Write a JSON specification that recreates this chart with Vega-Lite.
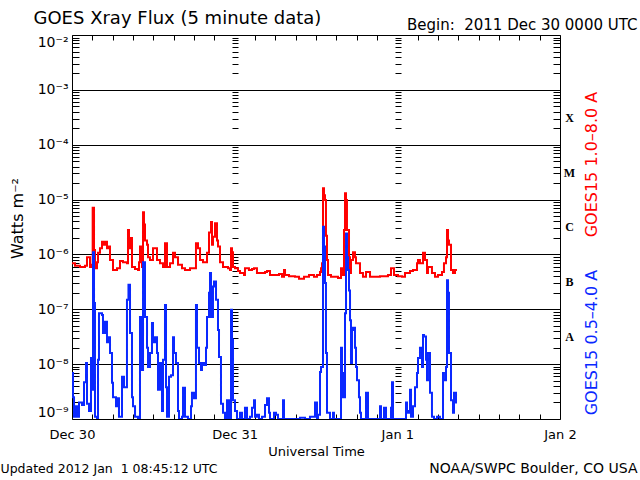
{
  "$schema": "https://vega.github.io/schema/vega-lite/v6.json",
  "width": 488,
  "height": 384,
  "autosize": "none",
  "padding": {"left": 72, "top": 35, "right": 80, "bottom": 61},
  "background": "white",
  "config": {
    "view": {"stroke": "black", "strokeWidth": 1},
    "axis": {"labelFont": "DejaVu Sans", "titleFont": "DejaVu Sans", "labelColor": "black", "titleColor": "black", "titleFontWeight": "normal", "tickColor": "black", "tickWidth": 1, "domainColor": "black", "gridColor": "black", "gridOpacity": 1}
  },
  "datasets": {
    "red": [
      {"t":0,"flux":6.9e-7},{"t":0.44,"flux":6.2e-7},{"t":1.18,"flux":5.9e-7},{"t":1.92,"flux":6.2e-7},{"t":2.21,"flux":8.9e-7},{"t":2.66,"flux":5.9e-7},{"t":2.95,"flux":6.5e-7},{"t":3.05,"flux":7.1e-6},{"t":3.25,"flux":1.2e-6},{"t":3.39,"flux":5.6e-7},{"t":3.69,"flux":7.2e-7},{"t":3.84,"flux":1.07e-6},{"t":4.13,"flux":1.3e-6},{"t":4.43,"flux":1.7e-6},{"t":4.72,"flux":1.5e-6},{"t":4.87,"flux":1.7e-6},{"t":5.16,"flux":1.3e-6},{"t":5.31,"flux":1.4e-6},{"t":5.61,"flux":7.9e-7},{"t":6.05,"flux":5.2e-7},{"t":6.64,"flux":5.6e-7},{"t":7.08,"flux":7.6e-7},{"t":7.52,"flux":7.2e-7},{"t":8.11,"flux":6.9e-7},{"t":8.26,"flux":2.8e-6},{"t":8.41,"flux":1.3e-6},{"t":8.56,"flux":2.0e-6},{"t":8.85,"flux":5.9e-7},{"t":9.3,"flux":5.4e-7},{"t":9.74,"flux":5.2e-7},{"t":9.89,"flux":7.2e-7},{"t":10.03,"flux":1.4e-6},{"t":10.18,"flux":8.5e-7},{"t":10.33,"flux":5.9e-7},{"t":10.48,"flux":5.9e-6},{"t":10.62,"flux":3.5e-6},{"t":10.77,"flux":1.8e-6},{"t":11.07,"flux":1.5e-6},{"t":11.21,"flux":8.9e-7},{"t":11.51,"flux":7.9e-7},{"t":11.95,"flux":1.3e-6},{"t":12.25,"flux":1.3e-6},{"t":12.54,"flux":7.9e-7},{"t":12.98,"flux":6.9e-7},{"t":13.43,"flux":5.9e-7},{"t":13.72,"flux":1.6e-6},{"t":14.02,"flux":5.9e-7},{"t":14.46,"flux":6.9e-7},{"t":14.9,"flux":1.07e-6},{"t":15.2,"flux":8.9e-7},{"t":15.64,"flux":6.5e-7},{"t":16.23,"flux":5.6e-7},{"t":16.67,"flux":5.2e-7},{"t":17.41,"flux":5.6e-7},{"t":18.0,"flux":5.6e-7},{"t":18.29,"flux":1.6e-6},{"t":18.59,"flux":1.3e-6},{"t":18.89,"flux":7.9e-7},{"t":19.33,"flux":7.2e-7},{"t":19.92,"flux":1.07e-6},{"t":20.21,"flux":2.5e-6},{"t":20.51,"flux":3.9e-6},{"t":20.66,"flux":1.5e-6},{"t":20.8,"flux":2.1e-6},{"t":21.1,"flux":3.7e-6},{"t":21.39,"flux":1.8e-6},{"t":21.54,"flux":1.4e-6},{"t":21.84,"flux":7.2e-7},{"t":22.28,"flux":5.9e-7},{"t":23.02,"flux":5.6e-7},{"t":23.31,"flux":5.2e-7},{"t":23.46,"flux":1.3e-6},{"t":23.61,"flux":1.1e-6},{"t":23.75,"flux":5.9e-7},{"t":24.05,"flux":5.6e-7},{"t":24.49,"flux":5.0e-7},{"t":24.79,"flux":4.6e-7},{"t":25.38,"flux":4.2e-7},{"t":25.52,"flux":5.6e-7},{"t":26.11,"flux":5.2e-7},{"t":26.56,"flux":5.4e-7},{"t":26.85,"flux":5.6e-7},{"t":27.29,"flux":4.6e-7},{"t":28.48,"flux":4.8e-7},{"t":28.77,"flux":5.0e-7},{"t":29.21,"flux":4.2e-7},{"t":30.54,"flux":4.4e-7},{"t":30.98,"flux":3.9e-7},{"t":31.28,"flux":5.2e-7},{"t":31.43,"flux":4.2e-7},{"t":32.02,"flux":4.0e-7},{"t":32.9,"flux":3.9e-7},{"t":33.49,"flux":3.6e-7},{"t":34.23,"flux":3.9e-7},{"t":34.97,"flux":4.2e-7},{"t":35.7,"flux":3.9e-7},{"t":36.15,"flux":4.2e-7},{"t":36.59,"flux":4.8e-7},{"t":36.74,"flux":5.6e-7},{"t":36.89,"flux":6.9e-7},{"t":37.03,"flux":1.6e-5},{"t":37.18,"flux":1.2e-5},{"t":37.33,"flux":9.8e-6},{"t":37.47,"flux":2.2e-6},{"t":37.62,"flux":7.9e-7},{"t":37.77,"flux":4.2e-7},{"t":38.21,"flux":3.9e-7},{"t":39.25,"flux":3.7e-7},{"t":39.69,"flux":5.6e-7},{"t":39.84,"flux":4.8e-7},{"t":39.98,"flux":4.2e-7},{"t":40.13,"flux":2.8e-6},{"t":40.28,"flux":1.3e-5},{"t":40.43,"flux":9.8e-6},{"t":40.57,"flux":2.8e-6},{"t":40.87,"flux":8.9e-7},{"t":41.02,"flux":4.6e-7},{"t":41.16,"flux":7.9e-7},{"t":41.46,"flux":1.1e-6},{"t":41.75,"flux":8.9e-7},{"t":41.9,"flux":6.9e-7},{"t":42.49,"flux":4.6e-7},{"t":42.93,"flux":3.9e-7},{"t":43.38,"flux":4.8e-7},{"t":43.97,"flux":3.9e-7},{"t":44.7,"flux":3.9e-7},{"t":45.44,"flux":4.0e-7},{"t":46.62,"flux":4.2e-7},{"t":47.07,"flux":5.6e-7},{"t":47.51,"flux":4.2e-7},{"t":48.1,"flux":4.0e-7},{"t":48.69,"flux":3.9e-7},{"t":49.13,"flux":4.6e-7},{"t":49.87,"flux":5.0e-7},{"t":50.31,"flux":5.2e-7},{"t":50.9,"flux":6.9e-7},{"t":51.05,"flux":7.9e-7},{"t":51.34,"flux":6.9e-7},{"t":51.79,"flux":1.07e-6},{"t":52.08,"flux":7.9e-7},{"t":52.38,"flux":4.6e-7},{"t":52.52,"flux":5.9e-7},{"t":53.11,"flux":4.6e-7},{"t":53.56,"flux":3.9e-7},{"t":54.0,"flux":4.2e-7},{"t":54.59,"flux":4.8e-7},{"t":54.88,"flux":6.9e-7},{"t":55.18,"flux":8.9e-7},{"t":55.33,"flux":2.8e-6},{"t":55.48,"flux":1.8e-6},{"t":55.62,"flux":1.5e-6},{"t":55.92,"flux":5.2e-7},{"t":56.21,"flux":4.6e-7},{"t":56.51,"flux":5.2e-7},{"t":56.8,"flux":5.2e-7}
    ],
    "blue": [
      {"t":0,"flux":6.9e-9},{"t":0.15,"flux":2.5e-9},{"t":0.3,"flux":1.1e-9},{"t":0.59,"flux":1.7e-9},{"t":0.74,"flux":1.1e-9},{"t":1.03,"flux":2.0e-9},{"t":1.48,"flux":1.8e-9},{"t":1.77,"flux":4.7e-9},{"t":2.07,"flux":1.05e-8},{"t":2.21,"flux":1.9e-9},{"t":2.51,"flux":1.4e-9},{"t":2.8,"flux":1.3e-8},{"t":2.95,"flux":3.4e-9},{"t":3.1,"flux":1.1e-6},{"t":3.25,"flux":1.3e-7},{"t":3.39,"flux":1.1e-9},{"t":3.69,"flux":1.0e-9},{"t":3.84,"flux":1.2e-8},{"t":3.98,"flux":8.5e-8},{"t":4.43,"flux":7.9e-8},{"t":4.57,"flux":3.7e-8},{"t":4.87,"flux":5.9e-8},{"t":5.16,"flux":2.5e-8},{"t":5.31,"flux":3.1e-8},{"t":5.61,"flux":1.6e-8},{"t":5.9,"flux":4.6e-9},{"t":6.05,"flux":2.5e-9},{"t":6.49,"flux":1.7e-9},{"t":6.64,"flux":2.4e-9},{"t":6.93,"flux":1.1e-9},{"t":7.38,"flux":5.9e-9},{"t":7.67,"flux":3.8e-9},{"t":7.97,"flux":3.8e-9},{"t":8.11,"flux":1.5e-7},{"t":8.33,"flux":2.8e-7},{"t":8.56,"flux":3.7e-8},{"t":8.85,"flux":2.5e-9},{"t":9.0,"flux":1.7e-9},{"t":9.3,"flux":1.1e-9},{"t":9.74,"flux":1.0e-9},{"t":10.03,"flux":7.2e-8},{"t":10.33,"flux":7.8e-9},{"t":10.48,"flux":7.2e-7},{"t":10.77,"flux":7.2e-8},{"t":11.07,"flux":2.0e-8},{"t":11.21,"flux":8.9e-9},{"t":11.51,"flux":1.6e-8},{"t":11.8,"flux":5.6e-8},{"t":11.95,"flux":2.5e-8},{"t":12.25,"flux":3.1e-8},{"t":12.54,"flux":1.6e-8},{"t":12.69,"flux":3.4e-9},{"t":12.98,"flux":1.05e-8},{"t":13.28,"flux":1.4e-9},{"t":13.43,"flux":1.2e-8},{"t":13.72,"flux":1.2e-7},{"t":13.87,"flux":3.8e-9},{"t":14.02,"flux":1.1e-9},{"t":14.31,"flux":5.9e-9},{"t":14.61,"flux":6.3e-9},{"t":14.9,"flux":3.1e-8},{"t":15.05,"flux":1.6e-8},{"t":15.34,"flux":1.05e-8},{"t":15.64,"flux":1.4e-9},{"t":15.79,"flux":1.0e-9},{"t":16.23,"flux":1.1e-9},{"t":16.38,"flux":3.7e-9},{"t":16.67,"flux":1.1e-9},{"t":17.11,"flux":1.0e-9},{"t":17.56,"flux":1.7e-9},{"t":17.7,"flux":3.0e-9},{"t":18.0,"flux":2.4e-9},{"t":18.29,"flux":1.2e-7},{"t":18.44,"flux":2.0e-8},{"t":18.74,"flux":1.05e-8},{"t":19.03,"flux":7.8e-9},{"t":19.18,"flux":1.05e-8},{"t":19.48,"flux":9.6e-9},{"t":19.77,"flux":2.0e-8},{"t":19.92,"flux":7.2e-8},{"t":20.21,"flux":2.0e-7},{"t":20.36,"flux":4.6e-7},{"t":20.51,"flux":7.2e-8},{"t":20.8,"flux":2.6e-7},{"t":20.95,"flux":3.2e-7},{"t":21.25,"flux":1.5e-7},{"t":21.54,"flux":4.2e-8},{"t":21.69,"flux":1.35e-8},{"t":21.98,"flux":1.9e-9},{"t":22.28,"flux":1.3e-9},{"t":22.57,"flux":1.0e-9},{"t":22.87,"flux":2.2e-9},{"t":23.16,"flux":1.0e-9},{"t":23.46,"flux":9.8e-8},{"t":23.61,"flux":2.8e-8},{"t":23.75,"flux":2.2e-9},{"t":24.05,"flux":1.4e-9},{"t":24.34,"flux":1.0e-9},{"t":24.79,"flux":1.3e-9},{"t":25.08,"flux":1.0e-9},{"t":25.52,"flux":1.6e-9},{"t":25.82,"flux":1.0e-9},{"t":26.26,"flux":1.1e-9},{"t":26.56,"flux":1.6e-9},{"t":26.85,"flux":2.2e-9},{"t":27.0,"flux":1.1e-9},{"t":27.29,"flux":1.2e-9},{"t":27.59,"flux":1.0e-9},{"t":28.03,"flux":1.1e-9},{"t":28.48,"flux":1.8e-9},{"t":28.77,"flux":2.4e-9},{"t":29.07,"flux":1.3e-9},{"t":29.21,"flux":1.0e-9},{"t":29.8,"flux":1.3e-9},{"t":30.1,"flux":1.2e-9},{"t":30.39,"flux":1.0e-9},{"t":31.13,"flux":2.2e-9},{"t":31.28,"flux":1.0e-9},{"t":32.17,"flux":1.0e-9},{"t":33.64,"flux":1.05e-9},{"t":34.38,"flux":1.0e-9},{"t":35.11,"flux":1.1e-9},{"t":35.85,"flux":2.0e-9},{"t":36.15,"flux":1.0e-9},{"t":36.3,"flux":1.2e-9},{"t":36.59,"flux":7.2e-9},{"t":36.74,"flux":8.9e-9},{"t":37.03,"flux":3.2e-6},{"t":37.18,"flux":1.4e-6},{"t":37.33,"flux":3.0e-7},{"t":37.47,"flux":1.6e-8},{"t":37.62,"flux":1.3e-9},{"t":38.07,"flux":1.0e-9},{"t":38.51,"flux":1.3e-9},{"t":38.65,"flux":1.0e-9},{"t":39.25,"flux":1.0e-9},{"t":39.69,"flux":2.0e-8},{"t":39.84,"flux":6.9e-9},{"t":39.98,"flux":2.5e-9},{"t":40.28,"flux":8.5e-8},{"t":40.43,"flux":2.4e-6},{"t":40.57,"flux":8.9e-7},{"t":40.72,"flux":5.2e-7},{"t":40.87,"flux":2.2e-7},{"t":41.02,"flux":6.3e-8},{"t":41.16,"flux":1.05e-8},{"t":41.31,"flux":4.2e-8},{"t":41.46,"flux":4.6e-8},{"t":41.75,"flux":2.0e-8},{"t":41.9,"flux":8.9e-9},{"t":42.05,"flux":5.1e-9},{"t":42.34,"flux":2.5e-9},{"t":42.49,"flux":1.3e-9},{"t":42.64,"flux":1.0e-9},{"t":43.38,"flux":3.0e-9},{"t":43.67,"flux":1.0e-9},{"t":45.44,"flux":1.7e-9},{"t":45.59,"flux":1.0e-9},{"t":46.03,"flux":1.6e-9},{"t":46.33,"flux":1.0e-9},{"t":47.07,"flux":1.6e-9},{"t":47.21,"flux":4.7e-9},{"t":47.36,"flux":1.0e-9},{"t":49.28,"flux":2.0e-9},{"t":49.43,"flux":1.4e-9},{"t":49.57,"flux":1.3e-9},{"t":49.87,"flux":3.4e-9},{"t":50.02,"flux":1.1e-9},{"t":50.31,"flux":1.7e-9},{"t":50.61,"flux":3.8e-9},{"t":50.9,"flux":6.9e-9},{"t":51.05,"flux":1.3e-8},{"t":51.34,"flux":2.0e-8},{"t":51.64,"flux":8.9e-9},{"t":51.79,"flux":3.4e-8},{"t":51.94,"flux":3.2e-8},{"t":52.23,"flux":1.2e-8},{"t":52.38,"flux":5.1e-9},{"t":52.52,"flux":1.6e-8},{"t":52.82,"flux":3.0e-9},{"t":53.11,"flux":1.1e-9},{"t":53.41,"flux":1.0e-9},{"t":53.85,"flux":1.1e-9},{"t":54.29,"flux":1.0e-9},{"t":54.74,"flux":6.9e-9},{"t":54.88,"flux":5.1e-9},{"t":55.18,"flux":8.9e-9},{"t":55.33,"flux":3.4e-7},{"t":55.48,"flux":2.0e-7},{"t":55.62,"flux":1.6e-8},{"t":55.92,"flux":2.2e-9},{"t":56.21,"flux":1.3e-9},{"t":56.36,"flux":3.0e-9},{"t":56.66,"flux":2.0e-9},{"t":56.8,"flux":2.0e-9}
    ]
  },
  "layer": [
    {
      "data": {"name": "red"},
      "mark": {"type": "line", "color": "#ff0000", "strokeWidth": 2, "interpolate": "step-after", "clip": true},
      "encoding": {
        "x": {"field": "t", "type": "quantitative", "scale": {"domain": [0, 72], "nice": false, "zero": false},
          "axis": {"orient": "bottom", "values": [0, 24, 48, 72], "labelExpr": "['Dec 30','Dec 31','Jan 1','Jan 2'][round(datum.value/24)]", "ticks": false, "tickSize": 0, "domain": false, "grid": false, "labelFontSize": 13, "labelPadding": 9, "labelFlush": false, "labelOverlap": false, "title": "Universal Time", "titleFontSize": 13, "titleX": 244, "titleY": 36, "titleAlign": "center", "titleBaseline": "alphabetic"}},
        "y": {"field": "flux", "type": "quantitative", "scale": {"type": "log", "domain": [1e-9, 1e-2], "nice": false},
          "axis": {"orient": "left", "values": [1e-9, 1e-8, 1e-7, 1e-6, 1e-5, 1e-4, 1e-3, 1e-2], "labelExpr": "'10' + ['⁻⁹','⁻⁸','⁻⁷','⁻⁶','⁻⁵','⁻⁴','⁻³','⁻²'][round(log(datum.value)/LN10)+9]", "ticks": false, "tickSize": 0, "domain": false, "grid": true, "gridColor": "black", "gridWidth": 1.2, "labelFontSize": 14, "labelPadding": 4, "labelFlush": true, "labelOverlap": false, "title": "Watts m⁻²", "titleFontSize": 16, "titleX": -55, "titleY": 183, "titleAlign": "center", "titleBaseline": "middle", "titleAngle": -90}}
      }
    },
    {
      "data": {"name": "blue"},
      "mark": {"type": "line", "color": "#0a28ff", "strokeWidth": 2, "interpolate": "step-after", "clip": true},
      "encoding": {
        "x": {"field": "t", "type": "quantitative", "scale": {"domain": [0, 72], "nice": false, "zero": false},
          "axis": {"orient": "bottom", "values": [3,6,9,12,15,18,21,27,30,33,36,39,42,45,51,54,57,60,63,66,69], "ticks": true, "tickSize": -5, "labels": false, "domain": false, "grid": false, "title": "Updated 2012 Jan\u00a0 1 08:45:12 UTC", "titleFontSize": 12.5, "titleX": -72, "titleY": 53, "titleAlign": "left", "titleBaseline": "alphabetic"}},
        "y": {"field": "flux", "type": "quantitative", "scale": {"type": "log", "domain": [1e-9, 1e-2], "nice": false},
          "axis": {"orient": "right", "values": [2e-9,3e-9,4e-9,5e-9,6e-9,7e-9,8e-9,9e-9,2e-8,3e-8,4e-8,5e-8,6e-8,7e-8,8e-8,9e-8,2e-7,3e-7,4e-7,5e-7,6e-7,7e-7,8e-7,9e-7,2e-6,3e-6,4e-6,5e-6,6e-6,7e-6,8e-6,9e-6,2e-5,3e-5,4e-5,5e-5,6e-5,7e-5,8e-5,9e-5,2e-4,3e-4,4e-4,5e-4,6e-4,7e-4,8e-4,9e-4,2e-3,3e-3,4e-3,5e-3,6e-3,7e-3,8e-3,9e-3], "ticks": true, "tickSize": -7, "labels": false, "domain": false, "grid": false, "title": "GOES15 0.5–4.0 A", "titleColor": "#0a28ff", "titleFontSize": 16, "titleX": 31, "titleY": 307, "titleAngle": -90, "titleAlign": "center", "titleBaseline": "middle"}}
      }
    },
    {
      "data": {"values": []},
      "mark": {"type": "point"},
      "encoding": {
        "x": {"field": "t", "type": "quantitative", "scale": {"domain": [0, 72], "nice": false, "zero": false},
          "axis": {"orient": "top", "values": [3,6,9,12,15,18,21,27,30,33,36,39,42,45,51,54,57,60,63,66,69], "ticks": true, "tickSize": -5, "labels": false, "domain": false, "grid": false, "title": "GOES Xray Flux (5 minute data)", "titleFontSize": 18, "titleX": -39, "titleY": -12, "titleAlign": "left", "titleBaseline": "alphabetic"}},
        "y": {"field": "flux", "type": "quantitative", "scale": {"type": "log", "domain": [1e-9, 1e-2], "nice": false},
          "axis": {"orient": "left", "values": [2e-9,3e-9,4e-9,5e-9,6e-9,7e-9,8e-9,9e-9,2e-8,3e-8,4e-8,5e-8,6e-8,7e-8,8e-8,9e-8,2e-7,3e-7,4e-7,5e-7,6e-7,7e-7,8e-7,9e-7,2e-6,3e-6,4e-6,5e-6,6e-6,7e-6,8e-6,9e-6,2e-5,3e-5,4e-5,5e-5,6e-5,7e-5,8e-5,9e-5,2e-4,3e-4,4e-4,5e-4,6e-4,7e-4,8e-4,9e-4,2e-3,3e-3,4e-3,5e-3,6e-3,7e-3,8e-3,9e-3], "ticks": true, "tickSize": -7, "labels": false, "domain": false, "grid": false, "title": null}}
      }
    },
    {
      "data": {"values": []},
      "mark": {"type": "point"},
      "encoding": {
        "x": {"field": "t", "type": "quantitative", "scale": {"domain": [0, 72], "nice": false, "zero": false},
          "axis": {"orient": "top", "ticks": false, "labels": false, "domain": false, "grid": false, "title": "Begin:\u00a0 2011 Dec 30 0000 UTC", "titleFontSize": 15, "titleX": 565, "titleY": -6, "titleAlign": "right", "titleBaseline": "alphabetic"}},
        "y": {"field": "flux", "type": "quantitative", "scale": {"type": "log", "domain": [1e-9, 1e-2], "nice": false},
          "axis": {"orient": "right", "values": [3.1623e-8, 3.1623e-7, 3.1623e-6, 3.1623e-5, 3.1623e-4], "labelExpr": "['A','B','C','M','X'][round(log(datum.value)/LN10+7.5)]", "ticks": false, "tickSize": 0, "domain": false, "grid": false, "labelFont": "Liberation Serif", "labelFontWeight": "bold", "labelFontSize": 12, "labelAlign": "center", "labelBaseline": "middle", "labelPadding": 9, "labelFlush": false, "labelOverlap": false, "title": "GOES15 1.0–8.0 A", "titleColor": "#ff0000", "titleFontSize": 16, "titleX": 31, "titleY": 129, "titleAngle": -90, "titleAlign": "center", "titleBaseline": "middle"}}
      }
    },
    {
      "data": {"values": []},
      "mark": {"type": "point"},
      "encoding": {
        "x": {"field": "t", "type": "quantitative", "scale": {"domain": [0, 72], "nice": false, "zero": false},
          "axis": {"orient": "bottom", "ticks": false, "labels": false, "domain": false, "grid": false, "title": "NOAA/SWPC Boulder, CO USA", "titleFontSize": 14, "titleX": 565, "titleY": 53, "titleAlign": "right", "titleBaseline": "alphabetic"}},
        "y": {"field": "flux", "type": "quantitative", "scale": {"type": "log", "domain": [1e-9, 1e-2], "nice": false},
          "axis": {"orient": "left", "offset": -160, "values": [2e-9,3e-9,4e-9,5e-9,6e-9,7e-9,8e-9,9e-9,2e-8,3e-8,4e-8,5e-8,6e-8,7e-8,8e-8,9e-8,2e-7,3e-7,4e-7,5e-7,6e-7,7e-7,8e-7,9e-7,2e-6,3e-6,4e-6,5e-6,6e-6,7e-6,8e-6,9e-6,2e-5,3e-5,4e-5,5e-5,6e-5,7e-5,8e-5,9e-5,2e-4,3e-4,4e-4,5e-4,6e-4,7e-4,8e-4,9e-4,2e-3,3e-3,4e-3,5e-3,6e-3,7e-3,8e-3,9e-3], "ticks": true, "tickSize": -6, "labels": false, "domain": false, "grid": false, "title": null}}
      }
    },
    {
      "data": {"values": []},
      "mark": {"type": "point"},
      "encoding": {
        "x": {"field": "t", "type": "quantitative", "scale": {"domain": [0, 72], "nice": false, "zero": false}, "axis": null},
        "y": {"field": "flux", "type": "quantitative", "scale": {"type": "log", "domain": [1e-9, 1e-2], "nice": false},
          "axis": {"orient": "left", "offset": -323, "values": [2e-9,3e-9,4e-9,5e-9,6e-9,7e-9,8e-9,9e-9,2e-8,3e-8,4e-8,5e-8,6e-8,7e-8,8e-8,9e-8,2e-7,3e-7,4e-7,5e-7,6e-7,7e-7,8e-7,9e-7,2e-6,3e-6,4e-6,5e-6,6e-6,7e-6,8e-6,9e-6,2e-5,3e-5,4e-5,5e-5,6e-5,7e-5,8e-5,9e-5,2e-4,3e-4,4e-4,5e-4,6e-4,7e-4,8e-4,9e-4,2e-3,3e-3,4e-3,5e-3,6e-3,7e-3,8e-3,9e-3], "ticks": true, "tickSize": -6, "labels": false, "domain": false, "grid": false, "title": null}}
      }
    }
  ],
  "resolve": {"axis": {"x": "independent", "y": "independent"}}
}
